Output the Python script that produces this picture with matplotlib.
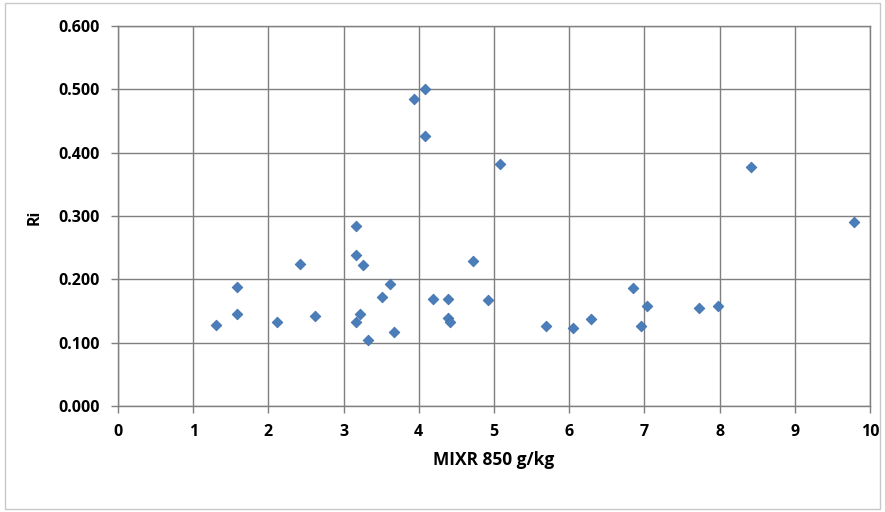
import matplotlib.pyplot as plt
from matplotlib.patches import Rectangle

# MIXR at 850 hPa (g/kg) against Ri
mixr = [1.30, 1.58, 1.58, 2.11, 2.42, 2.62, 3.16, 3.16, 3.26, 3.62, 3.51, 3.22,
        3.16, 3.32, 3.67, 4.08, 3.94, 4.08, 5.08, 4.72, 4.19, 4.39, 4.92, 4.39,
        4.41, 5.69, 6.05, 8.42, 9.79, 6.85, 7.04, 7.72, 7.98, 6.29, 6.95]
ri = [0.128, 0.188, 0.146, 0.133, 0.225, 0.142, 0.285, 0.238, 0.223, 0.192, 0.172, 0.146,
      0.133, 0.105, 0.117, 0.500, 0.485, 0.427, 0.382, 0.229, 0.169, 0.169, 0.167, 0.139,
      0.133, 0.127, 0.123, 0.377, 0.291, 0.187, 0.158, 0.154, 0.158, 0.137, 0.126]

xticks = list(range(0, 11))
yticks = [0.0, 0.1, 0.2, 0.3, 0.4, 0.5, 0.6]

W, H = 885, 512
fig = plt.figure(figsize=(W / 100, H / 100), dpi=100)
fig.patch.set_facecolor('white')
fig.patches.append(Rectangle((5 / W, 3 / H), (W - 10) / W, (H - 6) / H,
                             transform=fig.transFigure, fill=False,
                             edgecolor='#c8c8c8', linewidth=1))

ax = fig.add_axes([118 / W, 1 - 406 / H, (870 - 118) / W, (406 - 26) / H])
ax.scatter(mixr, ri, marker='D', s=30, color='#4a7ebb', edgecolors='#3d6ea8',
           linewidths=0.5, zorder=3)

ax.set_xlim(0, 10)
ax.set_ylim(0, 0.6)
ax.set_xticks(xticks)
ax.set_yticks(yticks)
ax.set_yticklabels([f'{v:.3f}' for v in yticks])
ax.grid(True, color='#7f7f7f', linewidth=1)
ax.set_axisbelow(True)
for s in ax.spines.values():
    s.set_color('#7f7f7f')
    s.set_linewidth(1)
ax.tick_params(length=5, width=1, color='#7f7f7f', labelsize=11.5, pad=8)
for lab in ax.get_xticklabels() + ax.get_yticklabels():
    lab.set_fontweight('bold')
    lab.set_fontfamily('Open Sans')

fig.text(494 / W, 1 - 460 / H, 'MIXR 850 g/kg', ha='center', va='center',
         fontsize=12.5, fontweight='bold', family='Open Sans')
fig.text(35 / W, 1 - 217 / H, 'Ri', ha='center', va='center', rotation=90,
         fontsize=11.5, fontweight='bold', family='Open Sans')

fig.savefig('out.png', dpi=100)
